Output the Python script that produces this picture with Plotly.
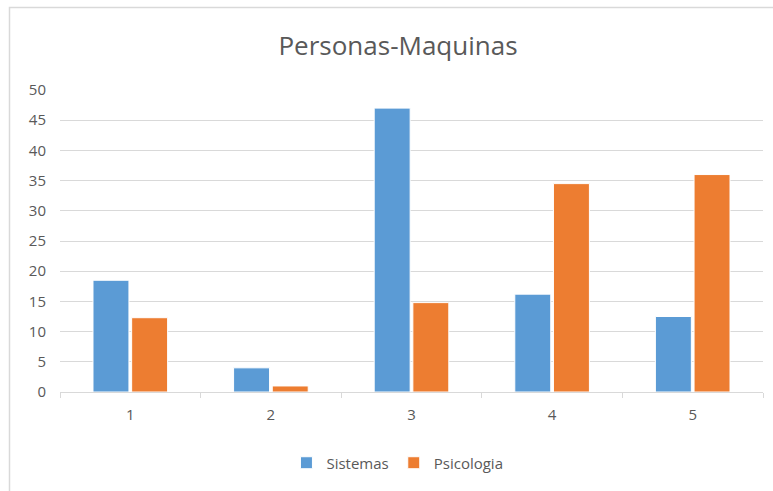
import plotly.graph_objects as go

# Survey groups and counts per career
categories = ["1", "2", "3", "4", "5"]
sistemas = [18.5, 4, 47, 16.2, 12.5]
psicologia = [12.3, 1, 14.8, 34.5, 36]
y_ticks = [0, 5, 10, 15, 20, 25, 30, 35, 40, 45, 50]

BLUE = "#5B9BD5"
ORANGE = "#ED7D31"
TEXT = "#595959"
GRID = "#D9D9D9"
FONT = "Open Sans, Lato, sans-serif"

fig = go.Figure()
fig.add_trace(go.Bar(
    x=categories, y=sistemas, name="Sistemas",
    marker=dict(color=BLUE, line=dict(color="white", width=1)),
))
fig.add_trace(go.Bar(
    x=categories, y=psicologia, name="Psicologia",
    marker=dict(color=ORANGE, line=dict(color="white", width=1)),
))

fig.update_layout(
    width=773, height=491,
    margin=dict(l=60, r=10, t=90, b=99),
    paper_bgcolor="white", plot_bgcolor="white",
    barmode="group", bargap=0.45, bargroupgap=0.07,
    font=dict(family=FONT, color=TEXT, size=15),
    title=dict(
        text="Personas-Maquinas",
        font=dict(family=FONT, size=26, color=TEXT),
        x=398 / 773, xref="container", xanchor="center",
        y=1 - 46 / 491, yref="container", yanchor="middle",
    ),
    showlegend=True,
    legend=dict(
        orientation="h", x=0.48, xanchor="center",
        y=-0.235, yanchor="middle",
        font=dict(family=FONT, size=15, color=TEXT),
        itemwidth=30, traceorder="normal",
    ),
    xaxis=dict(
        type="category",
        showgrid=False, showline=True, linecolor=GRID, linewidth=1,
        ticks="outside", tickson="boundaries", ticklen=5,
        tickcolor=GRID, tickwidth=1,
        ticklabelstandoff=9,
        tickfont=dict(family=FONT, size=15, color=TEXT),
    ),
    yaxis=dict(
        range=[0, 50], tickmode="array", tickvals=y_ticks,
        showgrid=True, gridcolor=GRID, gridwidth=1,
        zeroline=False, showline=False,
        ticks="", ticklabelstandoff=13,
        tickfont=dict(family=FONT, size=15, color=TEXT),
    ),
    shapes=[dict(
        type="rect", xref="paper", yref="paper",
        x0=(9.5 - 60) / 703, x1=1.1,
        y0=-0.5, y1=(392 - 7.5) / 302,
        line=dict(color=GRID, width=1.5), fillcolor="rgba(0,0,0,0)",
        layer="below",
    )],
)

fig.write_html("out.html")
